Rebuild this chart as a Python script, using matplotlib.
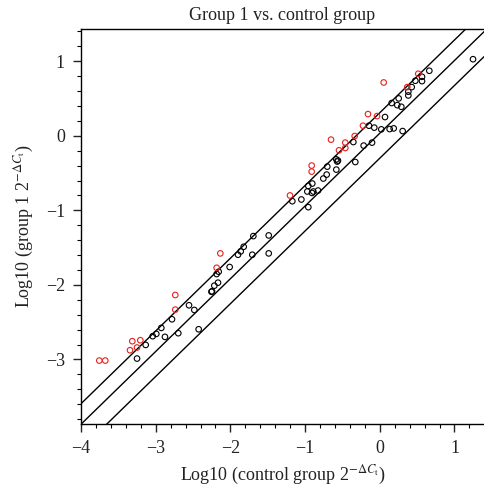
import matplotlib
matplotlib.use("Agg")
import matplotlib.pyplot as plt
import numpy as np

# ---- data (log10 values) ----
black_x = [1.248, 0.663, 0.565, 0.565, 0.476, 0.427, 0.382, 0.382, 0.253, 0.159,
           0.234, 0.288, 0.070, -0.145, -0.074, 0.020, 0.132, 0.186, 0.306, -0.216,
           -0.104, -0.354, -0.328, -0.703, -0.582, -0.560, -0.570, -0.582, -0.711, -0.756,
           -0.957, -0.904, -0.970, -0.908, -0.890, -0.827, -1.050, -1.171, -0.957, -1.487,
           -1.693, -1.822, -1.487, -1.707, -1.862, -1.898, -2.010, -2.157, -2.184, -2.215,
           -2.166, -2.246, -2.254, -2.554, -2.483, -2.425, -2.698, -2.782, -2.925, -2.876,
           -2.992, -3.040, -3.134, -3.250]
black_y = [1.028, 0.873, 0.792, 0.734, 0.739, 0.654, 0.592, 0.542, 0.502, 0.440,
           0.412, 0.390, 0.252, 0.136, 0.110, 0.087, 0.091, 0.100, 0.064, -0.131,
           -0.091, -0.083, -0.351, -0.413, -0.315, -0.332, -0.345, -0.453, -0.520, -0.573,
           -0.672, -0.640, -0.747, -0.766, -0.747, -0.734, -0.854, -0.877, -0.957, -1.336,
           -1.345, -1.488, -1.577, -1.595, -1.550, -1.595, -1.760, -1.823, -1.854, -2.010,
           -1.970, -2.086, -2.092, -2.273, -2.336, -2.595, -2.648, -2.461, -2.577, -2.697,
           -2.657, -2.688, -2.805, -2.988]
red_x = [0.052, 0.515, 0.368, -0.158, -0.037, -0.225, -0.336, -0.653, -0.462, -0.462,
         -0.546, -0.912, -0.912, -1.202, -2.135, -2.184, -2.738, -2.738, -3.313, -3.206,
         -3.344, -3.250, -3.755, -3.675]
red_y = [0.716, 0.833, 0.654, 0.292, 0.265, 0.136, -0.003, -0.051, -0.091, -0.163,
         -0.194, -0.399, -0.480, -0.800, -1.577, -1.770, -2.135, -2.332, -2.755, -2.742,
         -2.876, -2.840, -3.015, -3.015]

# reference lines: (slope, intercept)
line_slopes = [0.976, 0.976, 0.976]
line_intercepts = [0.31, 0.035, -0.30]

title = "Group 1 vs. control group"
xlabel = r"Log10 (control group 2$^{-\Delta C_{\mathrm{t}}}$)"
ylabel = r"Log10 (group 1 2$^{-\Delta C_{\mathrm{t}}}$)"
xticks = [-4, -3, -2, -1, 0, 1]
yticks = [-3, -2, -1, 0, 1]

plt.rcParams['font.family'] = ['Liberation Serif', 'DejaVu Serif']
plt.rcParams['mathtext.fontset'] = 'stix'

fig = plt.figure(figsize=(4.84, 4.92), dpi=100)
ax = fig.add_axes([81/484, (492-424.3)/492, (484-81)/484, (424.3-28.5)/492])

xlim = (-4, 1.395)
ylim = (-3.87, 1.44)
xs = np.array(xlim)
for s, b in zip(line_slopes, line_intercepts):
    ax.plot(xs, s*xs + b, color='black', lw=1.0)

ax.scatter(black_x, black_y, s=16, facecolors='none', edgecolors='black', linewidths=0.8, zorder=3)
ax.scatter(red_x, red_y, s=16, facecolors='none', edgecolors='#e8201a', linewidths=0.8, zorder=3)

ax.set_xlim(*xlim)
ax.set_ylim(*ylim)
ax.set_xticks(xticks)
ax.set_yticks(yticks)
ax.set_xticklabels([str(t).replace('-', '\u2212') for t in xticks])
ax.set_yticklabels([str(t).replace('-', '\u2212') for t in yticks])
ax.set_xticks(np.arange(-4, 1.4, 0.2), minor=True)
ax.set_yticks(np.arange(-3.8, 1.45, 0.2), minor=True)
ax.tick_params(which='major', direction='out', length=5.5, width=1, labelsize=13, colors='#222222', pad=6)
ax.tick_params(which='minor', direction='out', length=3, width=0.8)
ax.spines['right'].set_visible(False)
for sp in ['left', 'bottom', 'top']:
    ax.spines[sp].set_linewidth(1.0)

ax.set_title(title, fontsize=13, color='#222222', pad=6)
ax.set_xlabel(xlabel, fontsize=13, color='#222222', labelpad=5)
ax.set_ylabel(ylabel, fontsize=13, color='#222222', labelpad=7)

fig.savefig("out.png", dpi=100)
